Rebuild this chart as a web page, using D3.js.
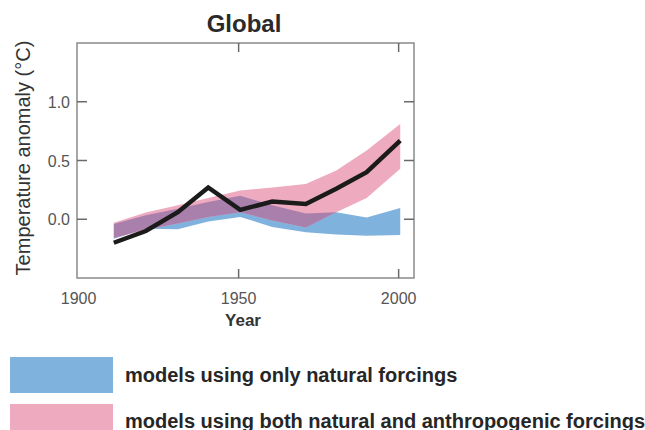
<!DOCTYPE html>
<html>
<head>
<meta charset="utf-8">
<script src="https://cdn.jsdelivr.net/npm/d3@7"></script>
<style>
  body { margin: 0; background: #fff; }
  svg { display: block; font-family: "Liberation Sans", Arial, sans-serif; }
</style>
</head>
<body>
<svg id="chart" width="645" height="430"></svg>
<script>
// decadal values
var years = [1911, 1921, 1931, 1940.5, 1950.5, 1960.5, 1971, 1980.5, 1990, 2000.5];
var observed = [-0.20, -0.10, 0.06, 0.27, 0.08, 0.15, 0.13, 0.26, 0.40, 0.67];
var bothLow = [-0.16, -0.09, -0.037, 0.02, 0.06, -0.01, -0.07, 0.06, 0.18, 0.43];
var bothHigh = [-0.03, 0.057, 0.12, 0.18, 0.245, 0.27, 0.30, 0.415, 0.585, 0.81];
var natLow = [-0.165, -0.08, -0.085, -0.02, 0.02, -0.065, -0.11, -0.13, -0.14, -0.135];
var natHigh = [-0.04, 0.034, 0.09, 0.147, 0.2, 0.12, 0.05, 0.06, 0.015, 0.095];
var yTicks = [0, 0.5, 1.0];
var xTicks = [1900, 1950, 2000];
var legendLabels = ["models using only natural forcings", "models using both natural and anthropogenic forcings"];

var svg = d3.select("#chart");
var pl = 77, pr = 414, pt = 43, pb = 278;

var x = d3.scaleLinear().domain([1899.5, 2004.8]).range([pl, pr]);
var y = d3.scaleLinear().domain([-0.5, 1.5]).range([pb, pt]);

var blue = "#80b2de", pink = "#eeaabf", purple = "#a97fab";

var band = function (lo, hi) {
  return d3.area()
    .x(function (d, i) { return x(years[i]); })
    .y0(function (d, i) { return y(lo[i]); })
    .y1(function (d, i) { return y(hi[i]); })(years);
};

svg.append("defs").append("clipPath").attr("id", "natclip")
  .append("path").attr("d", band(natLow, natHigh));

svg.append("path").attr("d", band(natLow, natHigh)).attr("fill", blue);
svg.append("path").attr("d", band(bothLow, bothHigh)).attr("fill", pink);
// overlap of the two ranges
svg.append("path").attr("d", band(bothLow, bothHigh)).attr("fill", purple)
  .attr("clip-path", "url(#natclip)");

var line = d3.line()
  .x(function (d, i) { return x(years[i]); })
  .y(function (d) { return y(d); });
svg.append("path").attr("d", line(observed))
  .attr("fill", "none").attr("stroke", "#1b1b1b").attr("stroke-width", 4.5)
  .attr("stroke-linejoin", "miter");

// frame
svg.append("rect").attr("x", pl).attr("y", pt)
  .attr("width", pr - pl).attr("height", pb - pt)
  .attr("fill", "none").attr("stroke", "#8a8a8a").attr("stroke-width", 1.5);

// ticks, drawn inward on all sides
var ax = svg.append("g").attr("stroke", "#6a6a6a").attr("stroke-width", 1.5);
yTicks.forEach(function (t) {
  ax.append("line").attr("x1", pl).attr("x2", pl + 10).attr("y1", y(t)).attr("y2", y(t));
  ax.append("line").attr("x1", pr).attr("x2", pr - 10).attr("y1", y(t)).attr("y2", y(t));
});
xTicks.slice(1).forEach(function (t) {
  ax.append("line").attr("x1", x(t)).attr("x2", x(t)).attr("y1", pb).attr("y2", pb - 9);
  ax.append("line").attr("x1", x(t)).attr("x2", x(t)).attr("y1", pt).attr("y2", pt + 9);
});

svg.append("g").selectAll("text").data(yTicks).join("text")
  .attr("x", 70).attr("y", function (d) { return y(d) + 6; })
  .attr("text-anchor", "end").attr("font-size", 16).attr("fill", "#555")
  .text(d3.format(".1f"));

svg.append("g").selectAll("text").data(xTicks).join("text")
  .attr("x", function (d) { return x(d); }).attr("y", 304)
  .attr("text-anchor", "middle").attr("font-size", 16).attr("fill", "#555")
  .text(function (d) { return d; });

svg.append("text").attr("x", 243).attr("y", 326).attr("text-anchor", "middle")
  .attr("font-size", 17).attr("font-weight", "bold").attr("fill", "#333").text("Year");

svg.append("text").attr("x", 244).attr("y", 32).attr("text-anchor", "middle")
  .attr("font-size", 24).attr("font-weight", "bold").attr("fill", "#2a2a2a").text("Global");

svg.append("text").attr("transform", "translate(30,158) rotate(-90)")
  .attr("text-anchor", "middle").attr("font-size", 20).attr("fill", "#333")
  .text("Temperature anomaly (°C)");

// legend
var leg = svg.append("g");
[blue, pink].forEach(function (c, i) {
  leg.append("rect").attr("x", 10).attr("y", 357 + i * 47)
    .attr("width", 103).attr("height", 36).attr("fill", c);
  leg.append("text").attr("x", 125).attr("y", 382 + i * 46)
    .attr("font-size", 20).attr("font-weight", "bold").attr("fill", "#262626")
    .text(legendLabels[i]);
});
</script>
</body>
</html>
